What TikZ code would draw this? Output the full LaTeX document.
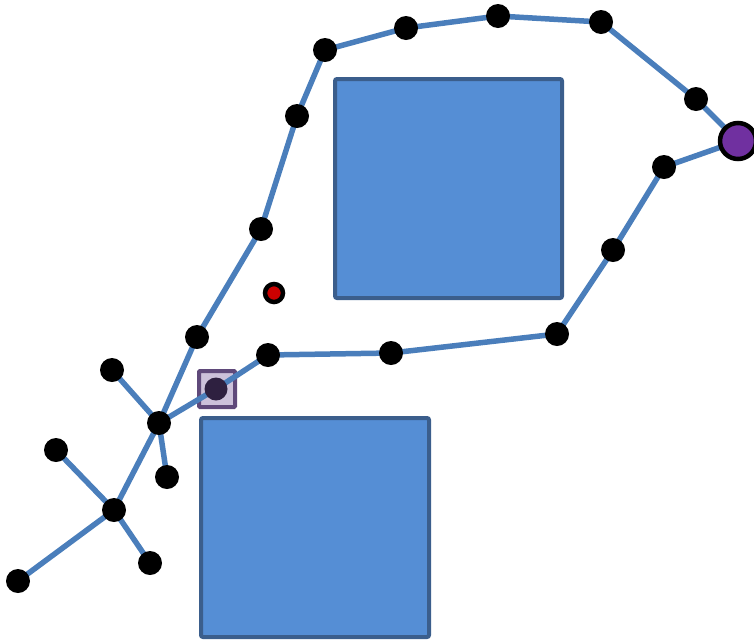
\documentclass[tikz,border=0pt]{standalone}
\pgfdeclarelayer{bg}
\pgfdeclarelayer{edges}
\pgfsetlayers{bg,edges,main}
\definecolor{edgeblue}{HTML}{4A7EBB}
\definecolor{boxfill}{HTML}{558ED5}
\definecolor{boxline}{HTML}{3B5E8C}
\definecolor{purp}{HTML}{7030A0}
\definecolor{sqline}{HTML}{5F497A}
\definecolor{sqfill}{HTML}{CCC1DA}
\definecolor{sqdot}{HTML}{2E2040}
\begin{document}
\begin{tikzpicture}[x=1pt,y=-1pt,
  dot/.style={circle,fill=black,minimum size=24pt,inner sep=0pt},
  edge/.style={draw=edgeblue,line width=5.5pt},
  block/.style={draw=boxline,fill=boxfill,line width=4pt,rounded corners=2pt,inner sep=0pt},
  goal/.style={circle,draw=black,fill=purp,line width=4.5pt,minimum size=36pt,inner sep=0pt},
  sq/.style={draw=sqline,fill=sqfill,line width=4pt,minimum size=36pt,inner sep=0pt,rounded corners=1pt},
  sqd/.style={circle,fill=sqdot,minimum size=23pt,inner sep=0pt},
  red/.style={circle,draw=black,fill=red!80!black,line width=4.5pt,minimum size=18pt,inner sep=0pt}]
\useasboundingbox (0,0) rectangle (754,641);
\begin{pgfonlayer}{bg}
\node[block,minimum width=227pt,minimum height=219pt] (r1) at (448.5,188.5) {};
\node[block,minimum width=228pt,minimum height=219pt] (r2) at (315,527.5) {};
\node[sq] (s) at (217,389) {};
\end{pgfonlayer}
\node[dot] (h1) at (159,423) {};
\node[dot] (a1) at (197,337) {};
\node[dot] (a2) at (261,229) {};
\node[dot] (a3) at (297,116) {};
\node[dot] (a4) at (325,50) {};
\node[dot] (a5) at (406,28) {};
\node[dot] (a6) at (498,16) {};
\node[dot] (a7) at (601,22) {};
\node[dot] (a8) at (696,99) {};
\node[goal] (p) at (738,141) {};
\node[dot] (b1) at (664,167) {};
\node[dot] (b2) at (613,250) {};
\node[dot] (b3) at (557,334) {};
\node[dot] (b4) at (391,353) {};
\node[dot] (b5) at (268,355) {};
\node[sqd] (sd) at (216,389) {};
\node[dot] (c1) at (112,370) {};
\node[dot] (c2) at (167,477) {};
\node[dot] (h2) at (114,510) {};
\node[dot] (c3) at (56,450) {};
\node[dot] (c4) at (150,563) {};
\node[dot] (c5) at (18,581) {};
\node[red] (rd) at (274,293) {};
\begin{pgfonlayer}{edges}
\draw[edge,line join=round] (h1.center) -- (a1.center) -- (a2.center) -- (a3.center) -- (a4.center) -- (a5.center) -- (a6.center) -- (a7.center) -- (a8.center) -- (p.center) -- (b1.center) -- (b2.center) -- (b3.center) -- (b4.center) -- (b5.center) -- (sd.center) -- (h1.center);
\draw[edge] (h1.center) -- (c1.center);
\draw[edge] (h1.center) -- (c2.center);
\draw[edge] (h1.center) -- (h2.center);
\draw[edge] (h2.center) -- (c3.center);
\draw[edge] (h2.center) -- (c4.center);
\draw[edge] (h2.center) -- (c5.center);
\end{pgfonlayer}
\end{tikzpicture}
\end{document}
